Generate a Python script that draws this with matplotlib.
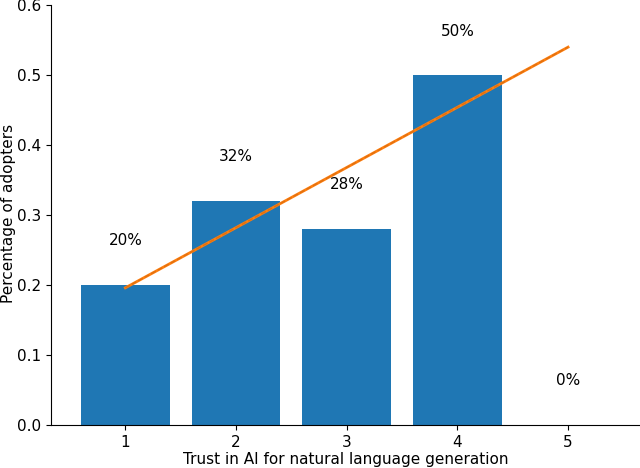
import numpy as np
import matplotlib.pyplot as plt

# data
trust_levels = [1, 2, 3, 4, 5]
adopter_share = [0.20, 0.32, 0.28, 0.50, 0.0]
pct_labels = ['20%', '32%', '28%', '50%', '0%']

# fitted trend line endpoints
trend_x = [1, 5]
trend_y = [0.196, 0.54]

fig = plt.figure(figsize=(6.4, 4.68), dpi=100)
ax = fig.add_axes([0.08, 0.092, 0.92, 0.897])

ax.bar(trust_levels, adopter_share, color='#1f77b4', width=0.8)
ax.plot(trend_x, trend_y, color='#ff7f0e', linewidth=2)
ax.plot(trend_x, trend_y, color='#e07010', linewidth=1, linestyle='--')

for x, v, lab in zip(trust_levels, adopter_share, pct_labels):
    ax.text(x, v + 0.063, lab, ha='center', va='center', fontsize=11)

ax.set_xlim(0.33, 5.65)
ax.set_ylim(0, 0.6)
ax.set_xticks(trust_levels)
ax.tick_params(labelsize=11)
ax.set_xlabel('Trust in AI for natural language generation', fontsize=11, labelpad=2)
fig.text(0.014, 0.543, 'Percentage of adopters', rotation=90,
         ha='center', va='center', fontsize=11)
ax.spines['top'].set_visible(False)
ax.spines['right'].set_visible(False)

plt.savefig('out.png', dpi=100)
